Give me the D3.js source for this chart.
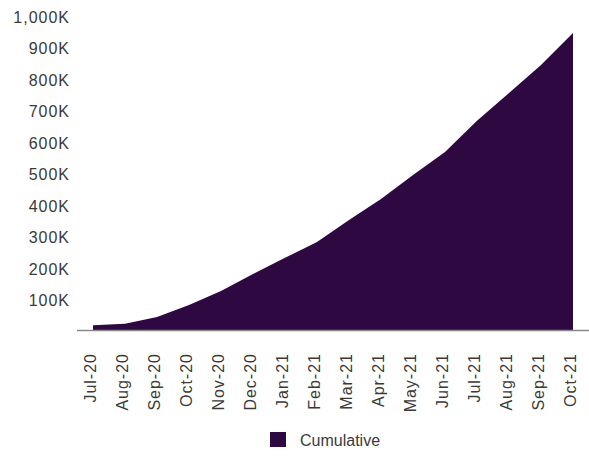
<!doctype html>
<html>
<head>
<meta charset="utf-8">
<style type="text/css">
html,body{
    margin: 0;
    overflow: hidden;
    background: #ffffff;
}
text {
    font-family: "Liberation Sans", Arial, sans-serif;
    fill: #3a3a3a;
}
.lbl {
    letter-spacing: 1px;
}
</style>
<script type="text/javascript" src="https://cdn.jsdelivr.net/npm/d3@7/dist/d3.min.js"></script>
</head>
<body>
<script type="text/javascript">
// monthly cumulative totals, in thousands
var months = ["Jul-20","Aug-20","Sep-20","Oct-20","Nov-20","Dec-20","Jan-21","Feb-21",
              "Mar-21","Apr-21","May-21","Jun-21","Jul-21","Aug-21","Sep-21","Oct-21"];
var cumulative = [15, 20, 41, 79, 124, 178, 229, 279, 349, 416, 492, 565, 664, 752, 841, 943];
var yTicks = [100, 200, 300, 400, 500, 600, 700, 800, 900, 1000];
var seriesName = "Cumulative";

(function(){
    var w = 589,
        h = 463,
        left = 77,
        right = 589,
        top = 15,
        bottom = 330,
        fill = "#2e0840";

    var data = months.map(function(m, i){ return {m: m, v: cumulative[i]}; });

    var svg = d3.select("body").append("svg")
        .attr("width", w)
        .attr("height", h);

    var x = d3.scalePoint()
        .domain(months)
        .range([left, right])
        .padding(0.5);

    var y = d3.scaleLinear()
        .domain([0, 1000])
        .range([bottom, top]);

    var area = d3.area()
        .x(function(d){ return x(d.m); })
        .y0(y(0))
        .y1(function(d){ return y(d.v); });

    svg.append("path")
        .datum(data)
        .attr("d", area)
        .attr("fill", fill);

    // y axis: labels only, no line
    var yAxis = svg.append("g")
        .attr("transform", "translate(" + (left - 7) + ",2)")
        .call(d3.axisLeft(y)
            .tickValues(yTicks)
            .tickSize(0)
            .tickPadding(0)
            .tickFormat(function(d){ return d3.format(",")(d) + "K"; }));
    yAxis.select(".domain").remove();
    yAxis.selectAll("text")
        .attr("class", "lbl")
        .style("font-size", "16px")
        .attr("fill", "#3a3a3a");

    // baseline
    svg.append("line")
        .attr("x1", left).attr("x2", right)
        .attr("y1", bottom + 0.5).attr("y2", bottom + 0.5)
        .attr("stroke", "#8a8a8a")
        .attr("stroke-width", 1.5);

    // x labels, rotated
    svg.append("g").selectAll("text")
        .data(months)
        .enter().append("text")
        .attr("class", "lbl")
        .attr("transform", function(d){ return "translate(" + (x(d) + 3) + ",353) rotate(-90)"; })
        .attr("text-anchor", "end")
        .style("font-size", "16px")
        .text(function(d){ return d; });

    // legend
    var lg = svg.append("g");
    lg.append("rect")
        .attr("x", 270).attr("y", 432)
        .attr("width", 16).attr("height", 15)
        .attr("fill", fill);
    lg.append("text")
        .attr("x", 300).attr("y", 446)
        .style("font-size", "16px")
        .text(seriesName);
})();
</script>
</body>
</html>
